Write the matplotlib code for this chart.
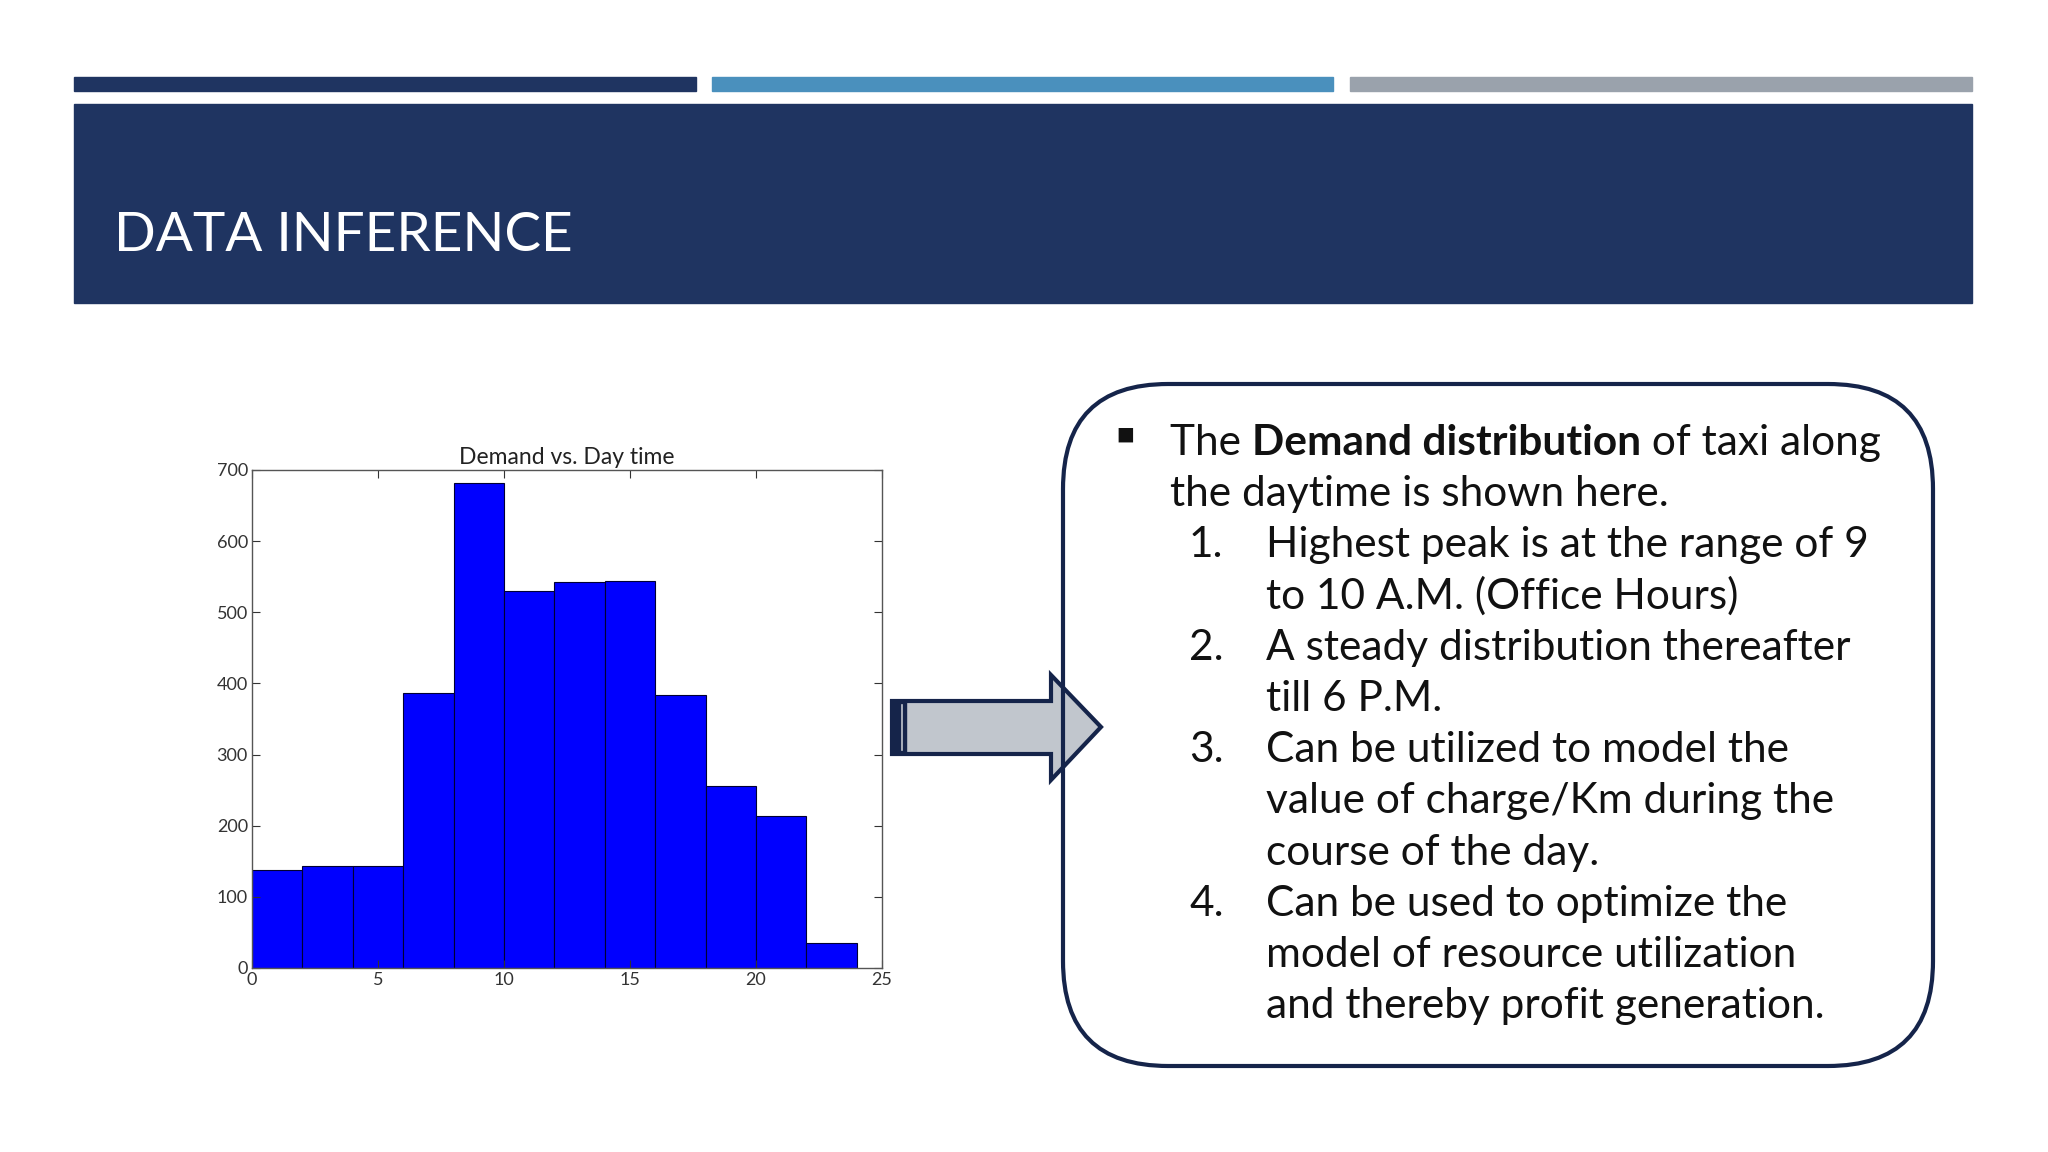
"""Slide: demand vs. day time histogram with notes."""
import matplotlib
matplotlib.use("Agg")
import matplotlib.pyplot as plt
from matplotlib.patches import Rectangle, FancyBboxPatch, Polygon

# histogram data (2-hour bins)
bin_left = [0, 2, 4, 6, 8, 10, 12, 14, 16, 18, 20, 22]
demand = [138, 144, 143, 387, 682, 530, 542, 544, 384, 256, 213, 35]
x_ticks = [0, 5, 10, 15, 20, 25]
y_ticks = [0, 100, 200, 300, 400, 500, 600, 700]

slide_title = "DATA INFERENCE"
chart_title = "Demand vs. Day time"

# note lines: (number label, text)
notes = [
    ("", "the daytime is shown here."),
    ("1.", "Highest peak is at the range of 9"),
    ("", "to 10 A.M. (Office Hours)"),
    ("2.", "A steady distribution thereafter"),
    ("", "till 6 P.M."),
    ("3.", "Can be utilized to model the"),
    ("", "value of charge/Km during the"),
    ("", "course of the day."),
    ("4.", "Can be used to optimize the"),
    ("", "model of resource utilization"),
    ("", "and thereby profit generation."),
]

NAVY = "#1F3461"
FONT = ["Lato", "DejaVu Sans"]
plt.rcParams["font.family"] = FONT

fig = plt.figure(figsize=(20.48, 11.52), dpi=100)
fig.patch.set_facecolor("white")

# background axes in pixel units, y pointing down
bg = fig.add_axes([0, 0, 1, 1])
bg.set_xlim(0, 2048)
bg.set_ylim(1152, 0)
bg.axis("off")

# three bars across the top
bg.add_patch(Rectangle((74, 77), 622, 14, color=NAVY))
bg.add_patch(Rectangle((712, 77), 621, 14, color="#4A90BD"))
bg.add_patch(Rectangle((1350, 77), 622, 14, color="#9AA2AC"))

# title banner
bg.add_patch(Rectangle((74, 104), 1898, 199, color=NAVY))
bg.text(114, 251, slide_title, color="white", fontsize=39.5,
        ha="left", va="baseline")

# rounded note box (edge drawn over the arrow head)
box = FancyBboxPatch((1063, 384), 870, 682,
                     boxstyle="round,pad=0,rounding_size=105",
                     facecolor="none", edgecolor="#15244A", linewidth=3,
                     zorder=5)
bg.add_patch(box)

# arrow
arrow = Polygon([(892, 701), (1051, 701), (1051, 675), (1101, 727),
                 (1051, 780), (1051, 754), (892, 754)],
                closed=True, facecolor="#C1C6CD", edgecolor="#15244A",
                linewidth=3, joinstyle="miter", zorder=3)
bg.add_patch(arrow)
bg.add_patch(Rectangle((892, 701), 14, 53, color="#15244A", zorder=4))
bg.plot([902, 902], [705, 750], color="#C1C6CD", linewidth=1.2, zorder=4)

text_size = 30.5
line_h = 51.2
y0 = 455
bg.text(1115, y0 - 12, "\u25aa", fontsize=21, ha="left", va="baseline",
        color="#111111", family=["DejaVu Sans"])
t1 = bg.text(1170, y0, "The ", fontsize=text_size, ha="left",
             va="baseline", color="#111111")
t2 = bg.annotate("Demand distribution", xy=(1, 0), xycoords=t1,
                 fontsize=text_size, ha="left", va="bottom",
                 fontweight="bold", color="#111111")
bg.annotate(" of taxi along", xy=(1, 0), xycoords=t2, fontsize=text_size,
            ha="left", va="bottom", color="#111111")
for i, (num, line) in enumerate(notes):
    y = y0 + (i + 1) * line_h
    if num:
        bg.text(1189, y, num, fontsize=text_size, ha="left",
                va="baseline", color="#111111")
        bg.text(1266, y, line, fontsize=text_size, ha="left",
                va="baseline", color="#111111")
    elif i == 0:
        bg.text(1170, y, line, fontsize=text_size, ha="left",
                va="baseline", color="#111111")
    else:
        bg.text(1266, y, line, fontsize=text_size, ha="left",
                va="baseline", color="#111111")

# histogram
ax = fig.add_axes([252 / 2048, (1152 - 968) / 1152, 630 / 2048, 498 / 1152])
ax.bar(bin_left, demand, width=2, align="edge", color="#0000FF",
       edgecolor="#000033", linewidth=0.8)
ax.set_xlim(0, 25)
ax.set_ylim(0, 700)
ax.set_xticks(x_ticks)
ax.set_yticks(y_ticks)
ax.tick_params(direction="in", top=True, right=True, length=6,
               labelsize=13, colors="#333333", pad=3)
for s in ax.spines.values():
    s.set_color("#555555")
    s.set_linewidth(1)
ax.set_title(chart_title, fontsize=16.5, color="#222222", pad=4)

fig.savefig("out.png", dpi=100)
